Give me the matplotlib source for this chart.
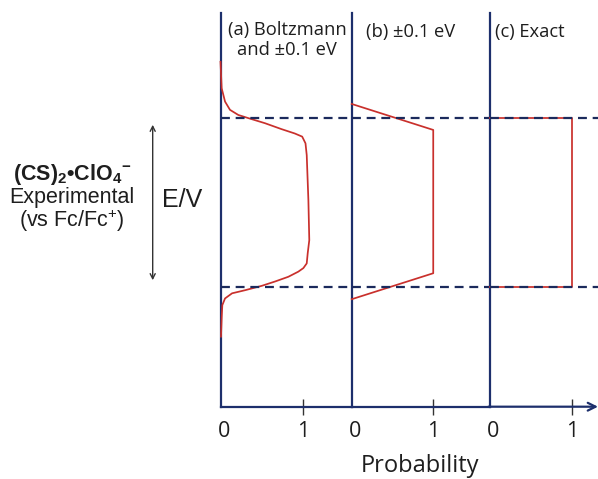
import matplotlib.pyplot as plt
from matplotlib.patches import FancyArrowPatch
from matplotlib.transforms import ScaledTranslation

plt.rcParams['font.family'] = ['Liberation Sans', 'DejaVu Sans']
plt.rcParams['mathtext.fontset'] = 'custom'
plt.rcParams['mathtext.rm'] = 'Liberation Sans'
plt.rcParams['mathtext.bf'] = 'Liberation Sans:bold'

# energy axis in % of the axis height (0 = bottom, 100 = top)
e_upper = 73.3
e_lower = 30.5

# (a) Boltzmann and ±0.1 eV
p_boltz = [0.000, 0.014, 0.055, 0.115, 0.216, 0.337, 0.54, 0.74, 0.90, 0.99, 1.03,
           1.045, 1.065, 1.076, 1.057, 1.045, 1.004, 0.943, 0.822, 0.661, 0.50,
           0.30, 0.14, 0.055, 0.022, 0.015, 0.006]
e_boltz = [87.6, 80.9, 77.5, 75.4, 74.1, 73.3, 72.0, 70.5, 69.4, 68.6, 66.9,
           63.9, 52.5, 42.3, 39.0, 36.4, 35.2, 34.3, 33.0, 31.8, 30.7,
           29.6, 28.8, 27.5, 25.8, 22.9, 17.8]

# (b) ±0.1 eV
p_lin = [0, 1, 1, 0]
e_lin = [76.9, 70.3, 33.9, 27.3]

# (c) Exact
p_exact = [0, 1, 1, 0]
e_exact = [e_upper, e_upper, e_lower, e_lower]

tick_vals = [0, 1]
tick_labels = ['0', '1']

navy = '#1d2f6c'
dash_col = '#1b2a5c'
red = '#c9302c'
txt = '#1e1e1e'
title_font = ['Open Sans', 'DejaVu Sans']

fig = plt.figure(figsize=(5.98, 4.79), dpi=100)

bottom = 1 - 406.7 / 479
height = 393.7 / 479
panels = [
    (220.5, 351.7, 1.59, p_boltz, e_boltz),
    (351.7, 489.5, 1.69, p_lin, e_lin),
    (489.5, 598.0, 1.31, p_exact, e_exact),
]

axes = []
for x0, x1, xmax, px, ey in panels:
    ax = fig.add_axes([x0 / 598, bottom, (x1 - x0) / 598, height])
    ax.plot(px, ey, color=red, lw=1.25, clip_on=False, zorder=3,
            solid_joinstyle='round')
    for e in (e_upper, e_lower):
        ax.axhline(e, color=dash_col, lw=1.6, dashes=(4, 2.6), zorder=4)
    ax.set_xlim(0, xmax)
    ax.set_ylim(0, 100)
    ax.set_yticks([])
    ax.set_xticks(tick_vals)
    ax.set_xticklabels(tick_labels, fontsize=15.5, family=title_font)
    ax.tick_params(axis='x', direction='inout', length=11, width=1,
                   color='#333333', pad=5, labelcolor=txt)
    zero_tick = ax.xaxis.get_major_ticks()[0]
    zero_tick.tick1line.set_visible(False)
    # the "0" labels sit a little right of the vertical axis
    lab = zero_tick.label1
    lab.set_transform(lab.get_transform() + ScaledTranslation(3.5 / 100, 0, fig.dpi_scale_trans))
    for s in ('top', 'right'):
        ax.spines[s].set_visible(False)
    for s in ('left', 'bottom'):
        ax.spines[s].set_color(navy)
        ax.spines[s].set_linewidth(1.6)
    ax.set_facecolor('none')
    axes.append(ax)

# arrow head at the end of the probability axis
axes[2].spines['bottom'].set_visible(False)
axes[2].annotate('', xy=(1.0, 0), xytext=(-0.01, 0), xycoords='axes fraction',
                 arrowprops=dict(arrowstyle='->', color=navy, lw=1.6,
                                 mutation_scale=14, shrinkA=0, shrinkB=0),
                 annotation_clip=False)

# panel titles
fig.text(287 / 598, 1 - 40 / 479, '(a) Boltzmann\nand \u00b10.1 eV', ha='center',
         va='center', multialignment='center', fontsize=13.2, linespacing=1.1,
         family=title_font, color=txt)
fig.text(366 / 598, 1 - 32 / 479, '(b) \u00b10.1 eV', ha='left', va='center',
         fontsize=13.2, family=title_font, color=txt)
fig.text(495 / 598, 1 - 32 / 479, '(c) Exact', ha='left', va='center',
         fontsize=13.2, family=title_font, color=txt)

# left-hand label: one text block, first line bold
left_label = ('$\\mathbf{(CS)_2\u2022ClO_4{}^{-}}$\n'
              'Experimental\n'
              '(vs Fc/Fc$^{+}$)')
fig.text(72 / 598, 1 - 198 / 479, left_label, ha='center', va='center',
         multialignment='center', fontsize=15.5, linespacing=1.0, color=txt)
fig.text(182 / 598, 1 - 200 / 479, 'E/V', ha='center', va='center',
         fontsize=18, color=txt)

fig.add_artist(FancyArrowPatch(
    (152.7 / 598, 1 - 283 / 479), (152.7 / 598, 1 - 122 / 479),
    transform=fig.transFigure, arrowstyle='<->', mutation_scale=9,
    color='#333333', lw=1.0))

fig.text(420 / 598, 7 / 479, 'Probability', ha='center', va='baseline',
         fontsize=17, family=title_font, color=txt)

fig.savefig('out.png', dpi=100)
